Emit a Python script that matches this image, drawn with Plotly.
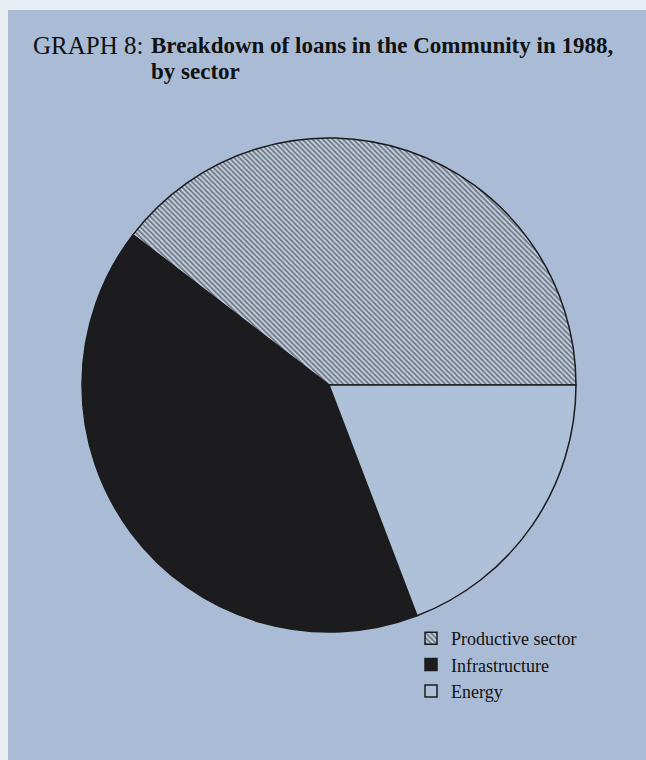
import plotly.graph_objects as go

# Share of 1988 Community loans by sector (percent)
sectors = ["Productive sector", "Infrastructure", "Energy"]
shares = [39.6, 41.2, 19.2]

W, H = 646, 760
page_blue = "#aabcd5"
ink = "#1c1c1e"

# In counterclockwise mode plotly places the first slice clockwise of the
# rotation line, so offset it by that slice to start the sequence at 3 o'clock.
first_slice_deg = shares[0] / sum(shares) * 360
start_rotation = 90 - first_slice_deg

fig = go.Figure()

fig.add_trace(go.Pie(
    labels=sectors,
    values=shares,
    sort=False,
    direction="counterclockwise",
    rotation=start_rotation,
    textinfo="none",
    hoverinfo="label+percent",
    marker=dict(
        colors=["#c4d2e4", ink, "#afc0d9"],
        line=dict(color=ink, width=1.5),
        pattern=dict(
            shape=["\\", "", ""],
            fgcolor=ink,
            bgcolor="#c4d2e4",
            size=3.6,
            solidity=0.5,
            fillmode="overlay",
        ),
    ),
    domain=dict(x=[(329 - 247) / W, (329 + 247) / W],
                y=[1 - 632 / H, 1 - 138 / H]),
))

serif = "Liberation Serif"

fig.add_annotation(
    text="GRAPH 8:", xref="paper", yref="paper",
    x=31 / W, y=1 - 30 / H, xanchor="left", yanchor="top",
    showarrow=False, font=dict(family=serif, size=25, color="#111"),
)
fig.add_annotation(
    text="<b>Breakdown of loans in the Community in 1988,</b>",
    xref="paper", yref="paper",
    x=149 / W, y=1 - 31 / H, xanchor="left", yanchor="top", align="left",
    showarrow=False, font=dict(family=serif, size=23, color="#111"),
)
fig.add_annotation(
    text="<b>by sector</b>",
    xref="paper", yref="paper",
    x=149 / W, y=1 - 57 / H, xanchor="left", yanchor="top", align="left",
    showarrow=False, font=dict(family=serif, size=23, color="#111"),
)

fig.update_layout(
    width=W, height=H,
    margin=dict(l=0, r=0, t=0, b=0),
    paper_bgcolor="#e9eef4",
    showlegend=True,
    legend=dict(
        x=411 / W, y=1 - 620 / H, xanchor="left", yanchor="top",
        bgcolor="rgba(0,0,0,0)",
        font=dict(family=serif, size=18, color="#111"),
        itemclick=False,
    ),
    shapes=[dict(
        type="rect", xref="paper", yref="paper", layer="below",
        x0=8 / W, x1=1, y0=0, y1=1 - 10 / H,
        fillcolor=page_blue, line=dict(width=0),
    )],
)

fig.write_html("out.html")
